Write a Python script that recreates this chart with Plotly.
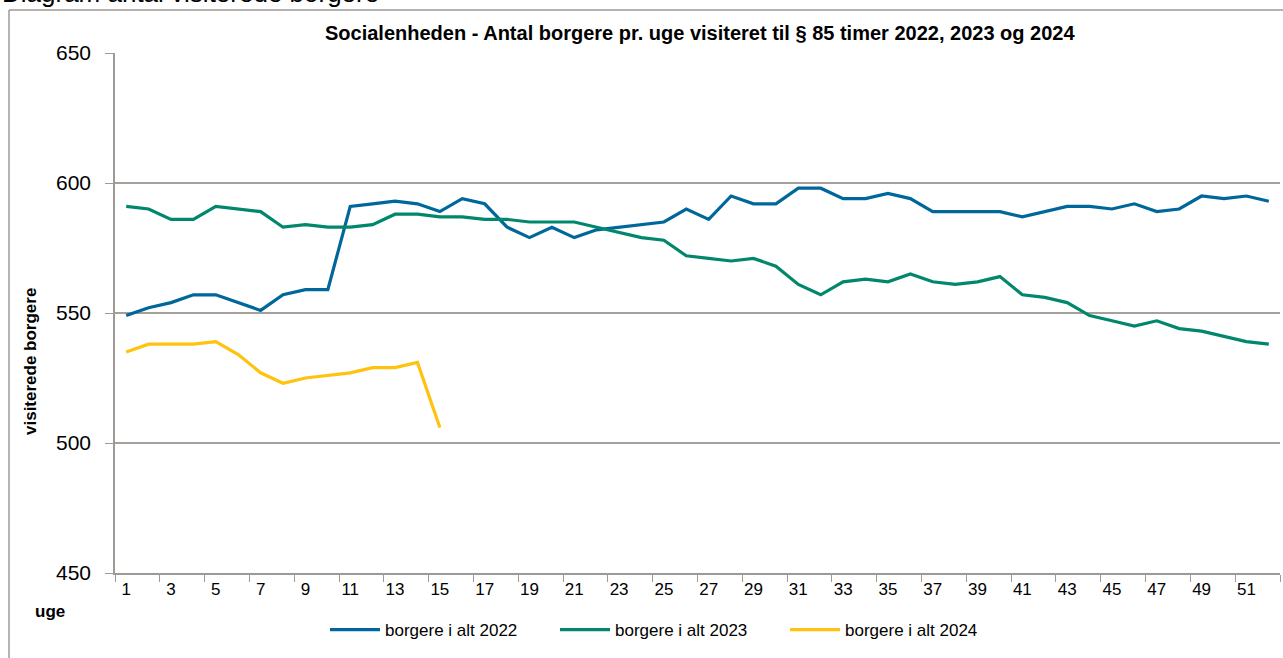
import plotly.graph_objects as go

weeks = [str(i) for i in range(1, 53)]

borgere_2022 = [549, 552, 554, 557, 557, 554, 551, 557, 559, 559,
                591, 592, 593, 592, 589, 594, 592, 583, 579, 583,
                579, 582, 583, 584, 585, 590, 586, 595, 592, 592,
                598, 598, 594, 594, 596, 594, 589, 589, 589, 589,
                587, 589, 591, 591, 590, 592, 589, 590, 595, 594,
                595, 593]
borgere_2023 = [591, 590, 586, 586, 591, 590, 589, 583, 584, 583,
                583, 584, 588, 588, 587, 587, 586, 586, 585, 585,
                585, 583, 581, 579, 578, 572, 571, 570, 571, 568,
                561, 557, 562, 563, 562, 565, 562, 561, 562, 564,
                557, 556, 554, 549, 547, 545, 547, 544, 543, 541,
                539, 538]
borgere_2024 = [535, 538, 538, 538, 539, 534, 527, 523, 525, 526,
                527, 529, 529, 531, 506]

series = [
    ("borgere i alt 2022", borgere_2022, "#00679A"),
    ("borgere i alt 2023", borgere_2023, "#00876C"),
    ("borgere i alt 2024", borgere_2024, "#FFC20E"),
]

W, H = 1283, 658
L, R, T, B = 115, 3, 53, 85
pw = W - L - R
ph = H - T - B

def px(x):
    return (x - L) / pw

def py(y):
    return 1 - (y - T) / ph

fig = go.Figure()
for name, vals, col in series:
    fig.add_trace(go.Scatter(
        x=weeks[:len(vals)], y=vals, name=name, mode="lines",
        line=dict(color=col, width=3.2)))

font_main = "Liberation Sans, Arial, sans-serif"
axis_col = "#A09A96"

fig.update_layout(
    width=W, height=H,
    margin=dict(l=L, r=R, t=T, b=B, autoexpand=False),
    paper_bgcolor="white", plot_bgcolor="white",
    showlegend=True,
    legend=dict(orientation="h", x=px(670), xanchor="center", y=py(630), yanchor="middle",
                font=dict(family=font_main, size=17, color="black"),
                itemwidth=50, entrywidth=165, tracegroupgap=0, bgcolor="rgba(0,0,0,0)"),
    xaxis=dict(type="category", tickson="boundaries", dtick=2, tickangle=0,
               automargin=False,
               showgrid=False, showline=True, linecolor=axis_col, linewidth=1.5,
               ticks="outside", ticklen=7, tickcolor=axis_col,
               tickfont=dict(family=font_main, size=17, color="black"),
               range=[-0.5, 51.5]),
    yaxis=dict(range=[450, 650], dtick=50, showgrid=True, gridcolor="#A6A09C", gridwidth=1.5,
               automargin=False,
               showline=True, linecolor=axis_col, linewidth=1.5,
               ticks="outside", ticklen=8, tickcolor=axis_col,
               ticklabelstandoff=10,
               tickfont=dict(family=font_main, size=21, color="black"),
               zeroline=False),
    shapes=[
        dict(type="line", xref="paper", yref="paper", x0=px(9), x1=px(9), y0=py(10), y1=py(700),
             line=dict(color=axis_col, width=1.5)),
        dict(type="line", xref="paper", yref="paper", x0=px(9), x1=px(1300), y0=py(10), y1=py(10),
             line=dict(color=axis_col, width=1.5)),
    ],
    annotations=[
        dict(text="Diagram antal visiterede borgere", xref="paper", yref="paper",
             x=px(0), y=py(10), xanchor="left", yanchor="bottom", showarrow=False,
             font=dict(family=font_main, size=26, color="black")),
        dict(text="<b>Socialenheden - Antal borgere pr. uge visiteret til § 85 timer 2022, 2023 og 2024</b>",
             xref="paper", yref="paper", x=px(700), y=py(33), xanchor="center", yanchor="middle",
             showarrow=False, font=dict(family=font_main, size=20, color="black")),
        dict(text="<b>visiterede borgere</b>", xref="paper", yref="paper",
             x=px(30), y=py(362), xanchor="center", yanchor="middle", textangle=-90,
             showarrow=False, font=dict(family=font_main, size=17, color="black")),
        dict(text="<b>uge</b>", xref="paper", yref="paper",
             x=px(50), y=py(611), xanchor="center", yanchor="middle",
             showarrow=False, font=dict(family=font_main, size=17, color="black")),
    ],
)

fig.write_html("out.html", config={"displayModeBar": False},
               post_script="document.body.style.margin='0';document.body.style.overflow='hidden';")
